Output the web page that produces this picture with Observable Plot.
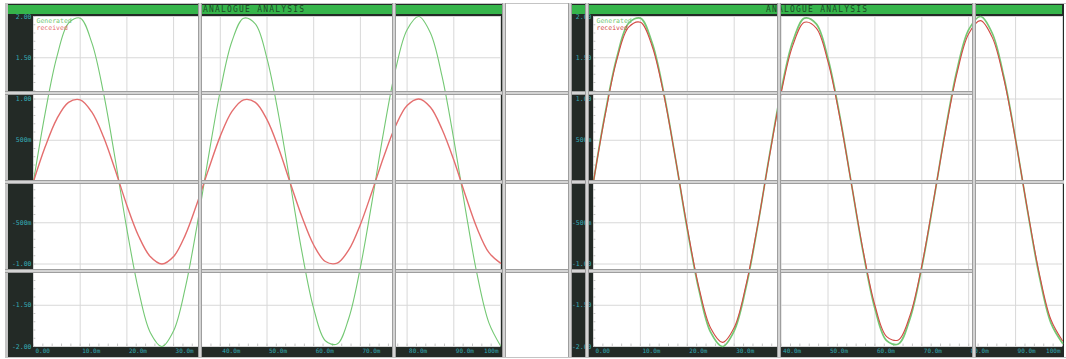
<!DOCTYPE html>
<html><head><meta charset="utf-8">
<script src="https://cdn.jsdelivr.net/npm/d3@7"></script>
<script src="https://cdn.jsdelivr.net/npm/@observablehq/plot@0.6"></script>
<style>
body{margin:0;background:#fff;}
#wrap{position:relative;width:1066px;height:359px;overflow:hidden;font-family:"DejaVu Sans Mono",monospace;}
.panel{position:absolute;top:4px;}
.bar{position:absolute;top:5px;height:9px;background:#36b54b;color:#1c4a25;font-size:8px;line-height:9px;letter-spacing:1.2px;white-space:nowrap;box-sizing:border-box;}
.vs{position:absolute;top:3px;height:354px;width:2px;background:#d4d4d4;border-left:1px solid #9e9e9e;border-right:1px solid #9e9e9e;}
.hs{position:absolute;height:2px;background:#d4d4d4;border-top:1px solid #9e9e9e;border-bottom:1px solid #9e9e9e;}
.ln{position:absolute;background:#c4c4c4;}
</style></head><body><div id="wrap"></div><script>
// sample times (ms)
const times = [0,2.5,5,7.5,10,12.5,15,17.5,20,22.5,25,27.5,30,32.5,35,37.5,40,42.5,45,47.5,50,52.5,55,57.5,60,62.5,65,67.5,70,72.5,75,77.5,80,82.5,85,87.5,90,92.5,95,97.5,100];
// left panel values
const leftGenerated = [0,0.83,1.51,1.92,1.98,1.68,1.07,0.27,-0.58,-1.32,-1.83,-2.00,-1.81,-1.29,-0.54,0.31,1.10,1.70,1.98,1.91,1.49,0.80,-0.03,-0.86,-1.54,-1.93,-1.97,-1.66,-1.04,-0.24,0.61,1.35,1.84,2.00,1.80,1.27,0.51,-0.34,-1.13,-1.71,-1.99];
const leftReceived = [0,0.42,0.76,0.96,0.99,0.84,0.54,0.14,-0.29,-0.66,-0.91,-1.00,-0.91,-0.65,-0.27,0.15,0.55,0.85,0.99,0.96,0.75,0.40,-0.02,-0.43,-0.77,-0.97,-0.99,-0.83,-0.52,-0.12,0.30,0.67,0.92,1.00,0.90,0.63,0.26,-0.17,-0.57,-0.86,-0.99];
// right panel values
const rightGenerated = [0,0.83,1.51,1.92,1.98,1.68,1.07,0.27,-0.58,-1.32,-1.83,-2.00,-1.81,-1.29,-0.54,0.31,1.10,1.70,1.98,1.91,1.49,0.80,-0.03,-0.86,-1.54,-1.93,-1.97,-1.66,-1.04,-0.24,0.61,1.35,1.84,2.00,1.80,1.27,0.51,-0.34,-1.13,-1.71,-1.96];
const rightReceived = [0,0.81,1.48,1.87,1.93,1.64,1.05,0.27,-0.56,-1.29,-1.78,-1.95,-1.77,-1.26,-0.53,0.30,1.07,1.65,1.93,1.86,1.45,0.78,-0.03,-0.84,-1.50,-1.88,-1.92,-1.62,-1.02,-0.23,0.59,1.31,1.79,1.95,1.75,1.24,0.50,-0.33,-1.10,-1.67,-1.93];
// ticks
const xTicks = [0,10,20,30,40,50,60,70,80,90,100];
const xLabels = ["0.00","10.0m","20.0m","30.0m","40.0m","50.0m","60.0m","70.0m","80.0m","90.0m","100m"];
const yTicks = [2,1.5,1,0.5,0,-0.5,-1,-1.5,-2];
const yLabels = ["2.00","1.50","1.00","500m","","-500m","-1.00","-1.50","-2.00"];
const seriesNames = ["Generated","received"];
const title = "ANALOGUE ANALYSIS";

const GREEN = "#74c874", RED = "#e46e6e", RED2 = "#d24a44", CYAN = "#35aab4";
const xMap = new Map(xTicks.map((d,i)=>[d,xLabels[i]]));
const yMap = new Map(yTicks.map((d,i)=>[d,yLabels[i]]));
const xMinor = d3.range(0,101,2);
const yMinor = d3.range(-20,21,1).map(d=>d/10);

function panel(gen, rec, o){
  const g = times.map((t,i)=>({t, v: gen[i]}));
  const r = times.map((t,i)=>({t, v: rec[i]}));
  const xFirst = xTicks.slice(0, -1), xLast = xTicks.slice(-1);
  return Plot.plot({
    width: o.width, height: 353,
    marginTop: 12, marginBottom: 11, marginLeft: o.mL, marginRight: o.mR,
    style: {background: "#232a26", fontFamily: "DejaVu Sans Mono, monospace"},
    x: {domain: [0,100]},
    y: {domain: [-2,2]},
    marks: [
      Plot.frame({fill: "white"}),
      Plot.gridX(xTicks, {stroke: "#d8d8d8", strokeOpacity: 1}),
      Plot.gridY(yTicks, {stroke: "#d8d8d8", strokeOpacity: 1}),
      Plot.ruleY(yMinor, {x1: 0, x2: 0.5, stroke: "#c6c6c6"}),
      Plot.ruleX(xMinor, {y1: -2, y2: -1.97, stroke: "#c6c6c6"}),
      Plot.axisY(yTicks, {tickSize: 0, tickPadding: 2, fontSize: 6.5, color: CYAN, tickFormat: d => yMap.get(d), label: null}),
      Plot.axisX(xFirst, {tickSize: 0, tickPadding: 2.5, fontSize: 6, color: CYAN, textAnchor: "start", dx: 2, tickFormat: d => xMap.get(d), label: null}),
      Plot.axisX(xLast, {tickSize: 0, tickPadding: 2.5, fontSize: 6, color: CYAN, textAnchor: "end", dx: -2, tickFormat: d => xMap.get(d), label: null}),
      Plot.line(g, {x: "t", y: "v", stroke: GREEN, strokeWidth: o.gw, curve: "catmull-rom"}),
      Plot.line(r, {x: "t", y: "v", stroke: o.red, strokeWidth: o.rw, curve: "catmull-rom"}),
      Plot.text([seriesNames[0]], {frameAnchor: "top-left", textAnchor: "start", lineAnchor: "top", dx: 3, dy: 1.5, fill: GREEN, fontSize: 6.5}),
      Plot.text([seriesNames[1]], {frameAnchor: "top-left", textAnchor: "start", lineAnchor: "top", dx: 3, dy: 8.5, fill: o.red, fontSize: 6.5})
    ]
  });
}

const wrap = document.getElementById("wrap");
function add(el, css){ el.style.cssText += css; wrap.appendChild(el); return el; }
function div(cls, css, text){ const d = document.createElement("div"); d.className = cls; if (text) d.textContent = text; return add(d, css); }

// outer frame lines
div("ln", "left:5px;top:3px;width:1061px;height:1px;");
div("ln", "left:5px;top:3px;width:3px;height:354px;");
div("ln", "left:5px;top:357px;width:1061px;height:1px;");

const left = panel(leftGenerated, leftReceived, {width: 495, mL: 25, mR: 3, red: RED, gw: 1.1, rw: 1.4});
left.classList.add("panel"); add(left, "left:8px;");
const right = panel(rightGenerated, rightReceived, {width: 494, mL: 23, mR: 2, red: RED2, gw: 1.7, rw: 1.1});
right.classList.add("panel"); add(right, "left:570px;");

// title bars
div("bar", "left:8px;width:494px;padding-left:195px;", title);
div("bar", "left:569px;width:493px;padding-left:197px;", title);

// tile seams
[91,269].forEach(y => div("hs", `left:5px;top:${y}px;width:970px;`));
div("hs", "left:5px;top:180px;width:1059px;");
[198,392,502,568,585,777,972].forEach(x => div("vs", `left:${x}px;`));
</script></body></html>
